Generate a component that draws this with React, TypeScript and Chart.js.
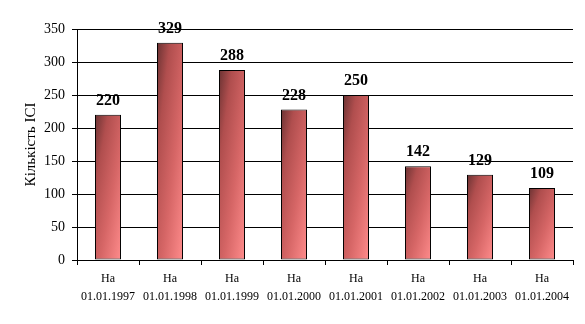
import React, { useEffect, useRef } from "react";
import { Chart, registerables } from "chart.js";

Chart.register(...registerables);

const dates = ["01.01.1997", "01.01.1998", "01.01.1999", "01.01.2000", "01.01.2001", "01.01.2002", "01.01.2003", "01.01.2004"];
const values = [220, 329, 288, 228, 250, 142, 129, 109];
const yTitle = "Кількість ІСІ";
const prefix = "На";

const SERIF = "'Liberation Serif', 'Times New Roman', serif";

function barGradient(ctx: any) {
  const chart = ctx.chart;
  const area = chart.chartArea;
  if (!area || ctx.type !== "data") return "#c85c5c";
  const xs = chart.scales.x;
  const ys = chart.scales.y;
  const cx = xs.getPixelForValue(ctx.dataIndex);
  const w = (xs.width / values.length) * 0.42;
  const left = cx - w / 2;
  const top = ys.getPixelForValue(ctx.raw);
  const bottom = ys.getPixelForValue(0);
  const h = Math.max(1, bottom - top);
  const dx = 1 / w, dy = 1 / h;
  const k = 2 / (dx * dx + dy * dy);
  const g = chart.ctx.createLinearGradient(left, top, left + dx * k, top + dy * k);
  g.addColorStop(0, "#6a3232");
  g.addColorStop(0.25, "#b04e4e");
  g.addColorStop(0.6, "#d66666");
  g.addColorStop(1, "#ff8c8c");
  return g;
}

const labelPlugin = {
  id: "barLabels",
  afterDatasetsDraw(chart: any) {
    const c = chart.ctx;
    const meta = chart.getDatasetMeta(0);
    c.save();
    c.font = `bold 16px ${SERIF}`;
    c.fillStyle = "#000";
    c.textAlign = "center";
    c.textBaseline = "alphabetic";
    meta.data.forEach((el: any, i: number) => {
      c.fillText(String(values[i]), el.x, el.y - 10);
    });
    c.restore();
  },
};

export default function App() {
  const ref = useRef<HTMLCanvasElement>(null);
  useEffect(() => {
    document.body.style.margin = "0";
    const chart = new Chart(ref.current!, {
      type: "bar",
      data: {
        labels: dates.map((d) => [prefix, d]),
        datasets: [
          {
            data: values,
            backgroundColor: barGradient as any,
            borderColor: "#000",
            borderWidth: 1,
            borderSkipped: false,
            categoryPercentage: 1,
            barPercentage: 0.42,
          },
        ],
      },
      options: {
        responsive: false,
        animation: false,
        layout: { padding: { top: 29, right: 12, left: 0, bottom: 0 } },
        plugins: { legend: { display: false }, tooltip: { enabled: false } },
        scales: {
          x: {
            offset: true,
            grid: { display: true, drawOnChartArea: false, drawTicks: true, tickLength: 5, color: "#000", offset: true },
            border: { display: true, color: "#000", width: 1 },
            ticks: {
              color: "#000",
              font: { family: SERIF, size: 12, lineHeight: 1.5 },
              padding: 5,
              maxRotation: 0,
              autoSkip: false,
            },
            afterFit: (s: any) => { s.height = 324 - 260; },
          },
          y: {
            min: 0,
            max: 350,
            ticks: { stepSize: 50, color: "#000", font: { family: SERIF, size: 14 }, padding: 7 },
            grid: { color: "#000", lineWidth: 1, tickLength: 5, drawTicks: true },
            border: { display: true, color: "#000", width: 1 },
            title: {
              display: true,
              text: yTitle,
              color: "#000",
              font: { family: SERIF, size: 15 },
              padding: { top: 22, bottom: 0 },
            },
            afterFit: (s: any) => { s.width = 77; },
          },
        },
      },
      plugins: [labelPlugin],
    });
    return () => chart.destroy();
  }, []);
  return <canvas ref={ref} width={585} height={324} style={{ display: "block" }} />;
}
